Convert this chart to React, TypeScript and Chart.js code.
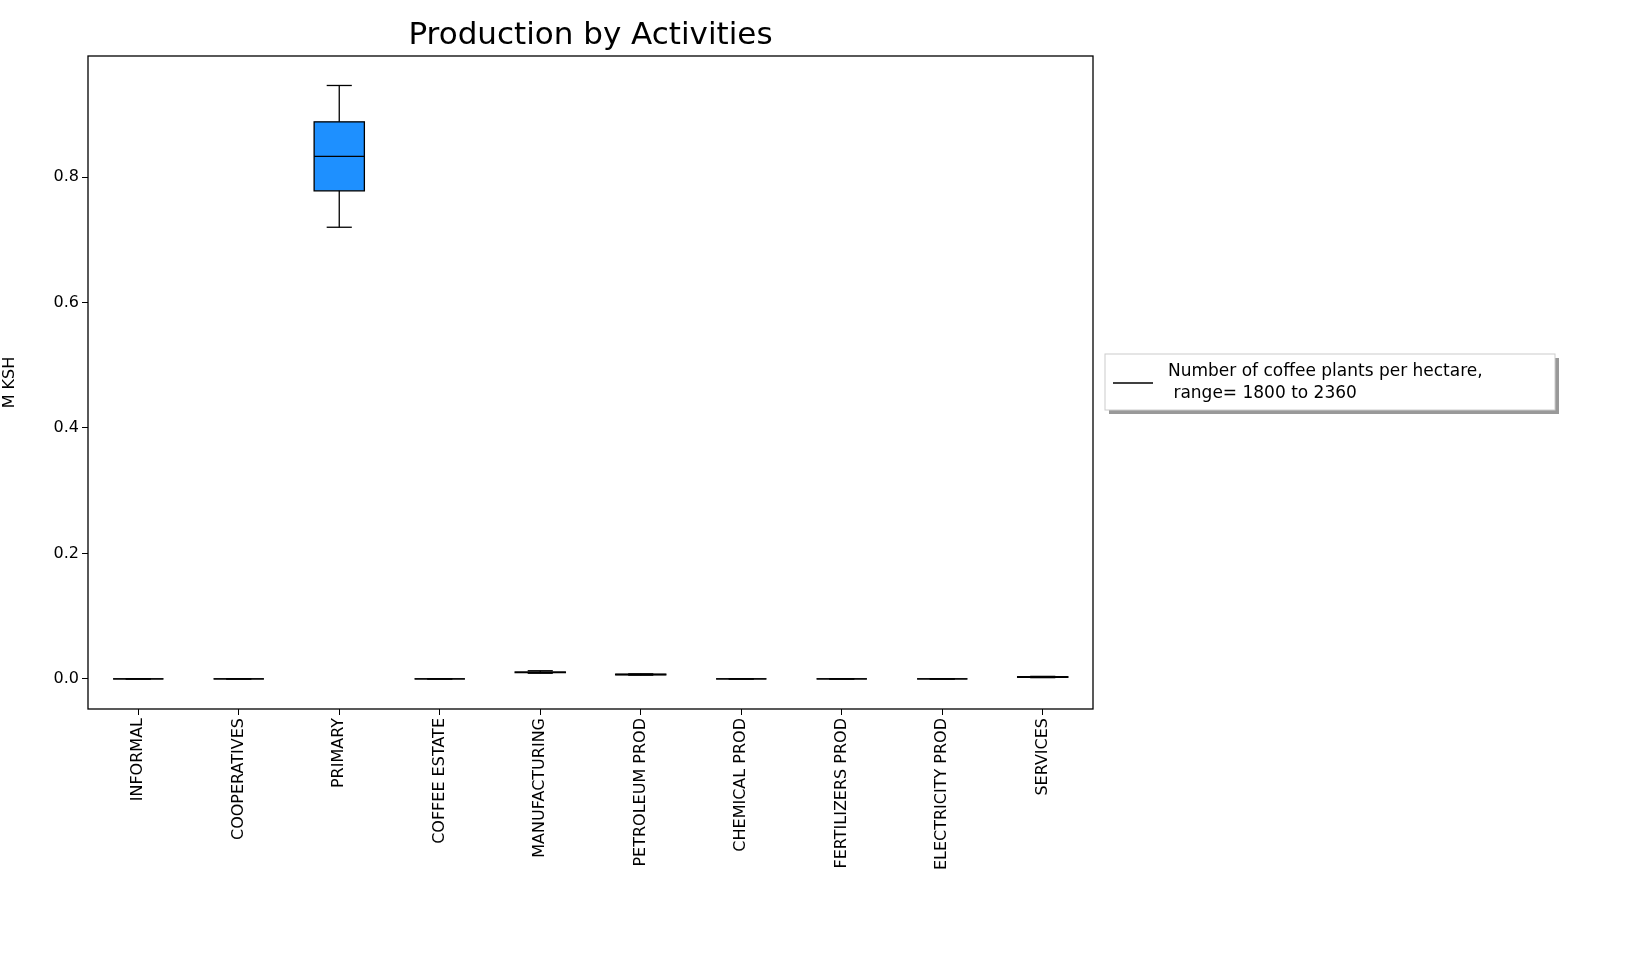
import React, { useEffect, useRef } from "react";
import { Chart, registerables } from "chart.js";
Chart.register(...registerables);

const categories = ["INFORMAL","COOPERATIVES","PRIMARY","COFFEE ESTATE","MANUFACTURING","PETROLEUM PROD","CHEMICAL PROD","FERTILIZERS PROD","ELECTRICITY PROD","SERVICES"];
const mins = [0,0,0.72,0,0.009,0.006,0,0,0,0.002];
const q1s = [0,0,0.778,0,0.010,0.0065,0,0,0,0.0025];
const medians = [0,0,0.833,0,0.0105,0.007,0,0,0,0.003];
const q3s = [0,0,0.888,0,0.011,0.0075,0,0,0,0.0035];
const maxs = [0,0,0.946,0,0.013,0.008,0,0,0,0.004];
const yTicks = [0,0.2,0.4,0.6,0.8];
const legendLines = ["Number of coffee plants per hectare,", " range= 1800 to 2360"];
const FONT = "'DejaVu Sans', sans-serif";

export default function App() {
  const ref = useRef<HTMLCanvasElement>(null);
  useEffect(() => {
    const boxPlugin = {
      id: "box",
      afterDatasetsDraw(chart: any) {
        const { ctx, scales: { x, y }, chartArea: a } = chart;
        const line = (x1: number, y1: number, x2: number, y2: number) => { ctx.beginPath(); ctx.moveTo(x1, y1); ctx.lineTo(x2, y2); ctx.stroke(); };
        ctx.save();
        ctx.strokeStyle = "#000"; ctx.lineWidth = 1.3;
        const half = (x.getPixelForValue(1) - x.getPixelForValue(0)) * 0.25;
        const cap = half / 2;
        categories.forEach((_, i) => {
          const cx = x.getPixelForValue(i);
          const pMin = y.getPixelForValue(mins[i]), pMax = y.getPixelForValue(maxs[i]);
          const pQ1 = y.getPixelForValue(q1s[i]), pQ3 = y.getPixelForValue(q3s[i]);
          line(cx, pQ1, cx, pMin); line(cx, pQ3, cx, pMax);
          line(cx - cap, pMin, cx + cap, pMin); line(cx - cap, pMax, cx + cap, pMax);
          ctx.strokeRect(cx - half, pQ3, half * 2, pQ1 - pQ3);
          const pm = y.getPixelForValue(medians[i]);
          line(cx - half, pm, cx + half, pm);
        });
        ctx.strokeRect(a.left, a.top, a.right - a.left, a.bottom - a.top);
        ctx.fillStyle = "#000"; ctx.font = `31px ${FONT}`; ctx.textAlign = "center"; ctx.textBaseline = "alphabetic";
        ctx.fillText("Production by Activities", (a.left + a.right) / 2, 44);
        const lx = 1105, ly = 354, lw = 450, lh = 56;
        ctx.fillStyle = "#999"; ctx.fillRect(lx + 4, ly + 4, lw, lh);
        ctx.fillStyle = "#fff"; ctx.fillRect(lx, ly, lw, lh);
        ctx.strokeStyle = "#ccc"; ctx.lineWidth = 1; ctx.strokeRect(lx, ly, lw, lh);
        ctx.strokeStyle = "#000"; ctx.lineWidth = 1.5; line(lx + 8, ly + 29, lx + 48, ly + 29);
        ctx.fillStyle = "#000"; ctx.font = `17px ${FONT}`; ctx.textAlign = "left"; ctx.textBaseline = "middle";
        ctx.fillText(legendLines[0], lx + 63, ly + 18);
        ctx.fillText(legendLines[1], lx + 63, ly + 40);
        ctx.restore();
      },
    };
    const chart = new Chart(ref.current!, {
      type: "bar",
      data: {
        labels: categories,
        datasets: [{
          data: q1s.map((v, i) => [v, q3s[i]]) as any,
          backgroundColor: "#1e90ff",
          borderWidth: 0,
          barPercentage: 0.5,
          categoryPercentage: 1,
        }],
      },
      options: {
        animation: false, responsive: false, maintainAspectRatio: false,
        layout: { padding: { top: 56, right: 537, left: 0, bottom: 0 } },
        plugins: { legend: { display: false }, tooltip: { enabled: false } },
        scales: {
          x: {
            afterFit: (s: any) => { s.height = 256; },
            grid: { display: true, drawOnChartArea: false, tickLength: 6, color: "#000", offset: false },
            border: { display: false },
            ticks: { color: "#000", font: { family: FONT, size: 16 }, maxRotation: 90, minRotation: 90, autoSkip: false },
          },
          y: {
            min: -0.048, max: 0.993,
            afterFit: (s: any) => { s.width = 88; },
            afterBuildTicks: (s: any) => { s.ticks = yTicks.map((v) => ({ value: v })); },
            grid: { display: true, drawOnChartArea: false, tickLength: 6, color: "#000" },
            border: { display: false },
            ticks: { color: "#000", font: { family: FONT, size: 16 }, callback: (v: any) => Number(v).toFixed(1) },
            title: { display: true, text: "M KSH", color: "#000", font: { family: FONT, size: 16 }, padding: 0 },
          },
        },
      },
      plugins: [boxPlugin],
    });
    return () => chart.destroy();
  }, []);
  return (
    <div style={{ position: "absolute", left: 0, top: 0, background: "#fff" }}>
      <canvas ref={ref} width={1630} height={965} style={{ width: 1630, height: 965 }} />
    </div>
  );
}
